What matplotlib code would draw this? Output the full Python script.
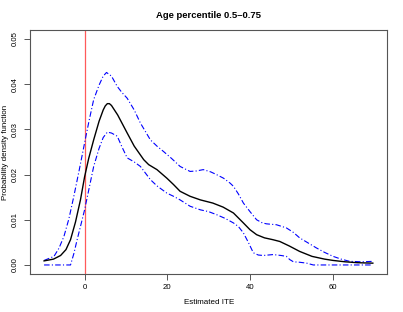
import matplotlib
matplotlib.use("Agg")
import matplotlib.pyplot as plt

plt.rcParams['font.family'] = ['Liberation Sans', 'DejaVu Sans']

title = "Age percentile 0.5\u20130.75"
xlabel = "Estimated ITE"
ylabel = "Probability density function"

# mean density
mean_x = [-9.8, -7.5, -5.8, -4.5, -3.4, -2.2, -1.0, 0.0, 1.0, 2.2, 3.5, 4.5, 5.0, 5.5, 6.0, 6.5, 8.0,
          10.3, 12.0, 14.3, 15.5, 17.5, 19.9, 21.5, 23.1, 25.5, 28.0, 31.0, 33.5, 36.0,
          38.4, 40.0, 41.6, 43.5, 45.5, 47.2, 49.5, 52.0, 55.0, 58.0, 60.1, 63.0, 66.0, 69.7]
mean_y = [0.0009, 0.0013, 0.0021, 0.0034, 0.0056, 0.0095, 0.0144, 0.0195, 0.0236, 0.0277, 0.0318,
          0.0343, 0.0352, 0.0357, 0.0357, 0.0353, 0.0332, 0.0292, 0.0263, 0.0233, 0.0222, 0.0211,
          0.0192, 0.0178, 0.0163, 0.0152, 0.0144, 0.0137, 0.0128, 0.0115, 0.0093, 0.0078, 0.0067,
          0.0060, 0.0056, 0.0052, 0.0042, 0.0030, 0.0019, 0.0013, 0.0010, 0.0007, 0.0005, 0.0004]

# upper band
up_x = [-9.8, -7.4, -6.2, -5.0, -3.8, -2.6, -1.3, 0.0, 1.1, 2.2, 3.5, 4.5, 5.3, 6.5, 7.9,
        9.0, 10.3, 12.0, 13.5, 15.9, 17.5, 19.1, 21.0, 23.1, 25.5, 27.0, 28.7, 30.5, 31.9,
        33.6, 35.2, 36.0, 37.2, 38.4, 40.0, 41.6, 43.0, 44.0, 46.4, 48.8, 50.5, 52.0, 54.0,
        56.0, 58.0, 60.1, 62.0, 64.1, 67.0, 69.7]
up_y = [0.0010, 0.0019, 0.0037, 0.0063, 0.0102, 0.0152, 0.0210, 0.0270, 0.0320, 0.0366, 0.0398,
        0.0418, 0.0426, 0.0418, 0.0395, 0.0382, 0.0369, 0.0343, 0.0314, 0.0277, 0.0263, 0.0251,
        0.0236, 0.0218, 0.0207, 0.0208, 0.0211, 0.0206, 0.0200, 0.0192, 0.0181, 0.0174, 0.0157,
        0.0137, 0.0118, 0.0100, 0.0093, 0.0091, 0.0089, 0.0082, 0.0072, 0.0060, 0.0049,
        0.0038, 0.0028, 0.0019, 0.0013, 0.0008, 0.0007, 0.0008]

# lower band
lo_x = [-9.8, -7.0, -5.0, -3.4, -2.6, -1.8, -1.0, 0.0, 1.1, 2.2, 3.5, 4.5, 5.5, 6.5, 7.9,
        9.0, 10.3, 12.0, 13.5, 15.9, 17.5, 19.9, 21.5, 23.1, 25.5, 28.0, 30.0, 32.0, 34.0,
        36.0, 37.2, 38.4, 39.6, 40.8, 42.0, 43.2, 45.6, 47.5, 48.8, 49.6, 50.5, 52.0, 53.7,
        55.3, 60.0, 65.0, 69.7]
lo_y = [0.0, 0.0, 0.0, 0.0, 0.0025, 0.0056, 0.0085, 0.0122, 0.0170, 0.0218, 0.0258, 0.0282,
        0.0294, 0.0292, 0.0285, 0.0262, 0.0237, 0.0228, 0.0218, 0.0189, 0.0175, 0.0159, 0.0152,
        0.0144, 0.0130, 0.0122, 0.0118, 0.0111, 0.0103, 0.0093, 0.0085, 0.0071, 0.0050, 0.0027,
        0.0022, 0.0021, 0.0023, 0.0021, 0.0019, 0.0012, 0.0007, 0.0006, 0.0004, 0.0, 0.0, 0.0, 0.0]

xticks = [0, 20, 40, 60]
yticks = [0.00, 0.01, 0.02, 0.03, 0.04, 0.05]
ytick_labels = ["0.00", "0.01", "0.02", "0.03", "0.04", "0.05"]

fig = plt.figure(figsize=(4.03, 3.12), dpi=100)
ax = fig.add_axes([30/403, 1-274/312, (387.3-30)/403, (274-30)/312])

ax.axvline(0, color='#ff5a5a', lw=0.9, zorder=1)
ax.plot(mean_x, mean_y, color='black', lw=1.0, zorder=3)
ax.plot(up_x, up_y, color='blue', lw=0.8, linestyle=(0, (5, 2, 1, 2)), zorder=2)
ax.plot(lo_x, lo_y, color='blue', lw=0.8, linestyle=(0, (5, 2, 1, 2)), zorder=2)

ax.set_xlim(-13.2, 73.2)
ax.set_ylim(-0.002, 0.052)
ax.set_xticks(xticks)
ax.set_xticklabels([str(t) for t in xticks])
ax.set_yticks(yticks)
ax.set_yticklabels(ytick_labels, rotation=90, va='center')

for s in ax.spines.values():
    s.set_color('#555555')
    s.set_linewidth(0.8)
ax.tick_params(axis='both', direction='out', length=4, width=0.7, color='#555555',
               labelsize=5.6, pad=3)
ax.tick_params(axis='y', pad=4)

ax.set_xlabel(xlabel, fontsize=5.8, labelpad=6)
fig.text(5.5/403, 1 - 152/312, ylabel, fontsize=5.8, rotation=90, ha='center', va='center')
ax.set_title(title, fontsize=6.8, fontweight='bold', pad=9)

fig.savefig("out.png", dpi=100)
